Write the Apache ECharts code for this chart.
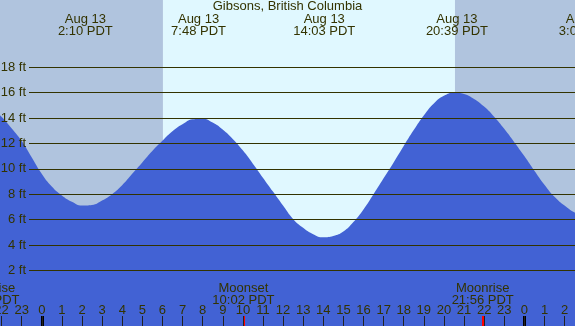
<!DOCTYPE html>
<html>
<head>
  <meta charset="utf-8">
  <title></title>
  <script src="https://cdn.jsdelivr.net/npm/echarts@6/dist/echarts.min.js"></script>
  <style>
    html, body { margin: 0; padding: 0; }
    #main { width: 575px; height: 326px; }
  </style>
</head>
<body>
  <div id="main"></div>
  <script type="text/javascript">
    // hours since midnight Aug 13 (PDT), tide height in ft, every half hour
    var tideHours = [-2.5, -2, -1.5, -1, -0.5, 0, 0.5, 1, 1.5, 2, 2.5, 3, 3.5, 4, 4.5, 5, 5.5, 6, 6.5, 7, 7.5, 8, 8.5, 9, 9.5, 10, 10.5, 11, 11.5, 12, 12.5, 13, 13.5, 14, 14.5, 15, 15.5, 16, 16.5, 17, 17.5, 18, 18.5, 19, 19.5, 20, 20.5, 21, 21.5, 22, 22.5, 23, 23.5, 24, 24.5, 25, 25.5, 26, 26.5, 27];
    var tideFt = [14.8, 14.1, 13.2, 12.2, 10.9, 9.6, 8.6, 7.9, 7.4, 7.1, 7.15, 7.5, 8.0, 8.7, 9.6, 10.5, 11.4, 12.2, 12.95, 13.5, 13.9, 13.95, 13.65, 13.1, 12.35, 11.45, 10.4, 9.3, 8.2, 7.1, 6.05, 5.35, 4.85, 4.6, 4.7, 5.05, 5.8, 6.8, 8.0, 9.25, 10.5, 11.8, 13.05, 14.2, 15.15, 15.75, 16.0, 15.9, 15.5, 14.9, 14.1, 13.15, 12.1, 11.0, 9.85, 8.75, 7.8, 7.1, 6.55, 6.2];

    var sunrise = 6.03, sunset = 20.55;
    var viewStart = -2.074, viewEnd = 26.52;

    var extremeHours = [2.17, 7.8, 14.05, 20.65, 27.08];
    var extremeLabels = ['Aug 13\n2:10 PDT', 'Aug 13\n7:48 PDT', 'Aug 13\n14:03 PDT', 'Aug 13\n20:39 PDT', 'Aug 14\n3:05 PDT'];

    var moonHours = [-2.65, 10.03, 21.93];
    var moonLabels = ['Moonrise\n21:21 PDT', 'Moonset\n10:02 PDT', 'Moonrise\n21:56 PDT'];
    var midnightHours = [0, 24];

    var textColor = '#333300';
    var fontFam = '"Liberation Sans", Arial, sans-serif';

    var tideData = tideHours.map(function (h, i) { return [h, tideFt[i]]; });

    var myChart = echarts.init(document.getElementById('main'));

    var option = {
      animation: false,
      textStyle: { fontFamily: fontFam },
      grid: [
        { left: 0, right: 0, top: 0, bottom: 0, outerBoundsMode: 'none', containLabel: false },
        { left: 29, right: 0, top: 67.3, bottom: 55.7, outerBoundsMode: 'none', containLabel: false },
        { left: 1.6, right: 10.4, top: 316, bottom: 0, outerBoundsMode: 'none', containLabel: false }
      ],
      xAxis: [
        { gridIndex: 0, type: 'value', min: viewStart, max: viewEnd, show: false },
        { gridIndex: 1, type: 'value', min: 0, max: 1, show: false },
        {
          gridIndex: 2, type: 'value', min: -2, max: 26, interval: 1, z: 10,
          axisLine: { show: false },
          splitLine: { show: false },
          axisTick: { show: true, inside: true, length: 10, lineStyle: { color: '#222', width: 1 } },
          axisLabel: {
            inside: true, margin: 9, color: textColor, fontSize: 13, fontFamily: fontFam,
            showMinLabel: true, showMaxLabel: true,
            alignMinLabel: 'center', alignMaxLabel: 'center', hideOverlap: false,
            formatter: function (v) { return String(((v % 24) + 24) % 24); }
          }
        }
      ],
      yAxis: [
        { gridIndex: 0, type: 'value', min: -2.39, max: 23.3, show: false },
        {
          gridIndex: 1, type: 'value', min: 2, max: 18, interval: 2, z: 10,
          axisLine: { show: false },
          axisTick: { show: false },
          splitLine: { show: true, lineStyle: { color: '#333300', width: 1 } },
          axisLabel: {
            margin: 3, color: textColor, fontSize: 13, fontFamily: fontFam,
            formatter: function (v) { return v + ' ft'; }
          }
        },
        { gridIndex: 2, type: 'value', min: 0, max: 1, show: false }
      ],
      series: [
        {
          type: 'line',
          xAxisIndex: 0, yAxisIndex: 0,
          data: tideData,
          smooth: 0.5,
          symbol: 'none',
          lineStyle: { width: 0 },
          areaStyle: { color: '#4262d4', opacity: 1, origin: 'start' },
          markArea: {
            silent: true,
            data: [
              [{ xAxis: viewStart, itemStyle: { color: '#b0c4de' } }, { xAxis: sunrise }],
              [{ xAxis: sunrise, itemStyle: { color: '#e0f8ff' } }, { xAxis: sunset }],
              [{ xAxis: sunset, itemStyle: { color: '#b0c4de' } }, { xAxis: viewEnd }]
            ]
          }
        },
        {
          type: 'line',
          xAxisIndex: 2, yAxisIndex: 2,
          data: [],
          z: 12,
          markLine: {
            silent: true,
            symbol: ['none', 'none'],
            label: { show: false },
            data: midnightHours.map(function (h) {
              return { xAxis: h, lineStyle: { color: '#000', width: 3, type: 'solid' } };
            }).concat(moonHours.slice(1).map(function (h) {
              return { xAxis: h, lineStyle: { color: '#ff0000', width: 2, type: 'solid' } };
            }))
          }
        }
      ]
    };
    myChart.setOption(option);

    var graphics = [{
      type: 'text', left: 'center', top: 0, z: 20,
      style: { text: 'Gibsons, British Columbia', fill: textColor, font: '13px ' + fontFam }
    }];
    extremeHours.forEach(function (h, i) {
      var px = myChart.convertToPixel({ xAxisIndex: 0 }, h);
      graphics.push({
        type: 'text', x: px, y: 13.5, z: 20,
        style: { text: extremeLabels[i], fill: textColor, font: '13px ' + fontFam, align: 'center', verticalAlign: 'top', lineHeight: 12 }
      });
    });
    moonHours.forEach(function (h, i) {
      var px = myChart.convertToPixel({ xAxisIndex: 0 }, h);
      graphics.push({
        type: 'text', x: px, y: 282, z: 20,
        style: { text: moonLabels[i], fill: textColor, font: '13px ' + fontFam, align: 'center', verticalAlign: 'top', lineHeight: 12 }
      });
    });
    myChart.setOption({ graphic: graphics });
  </script>
</body>
</html>
